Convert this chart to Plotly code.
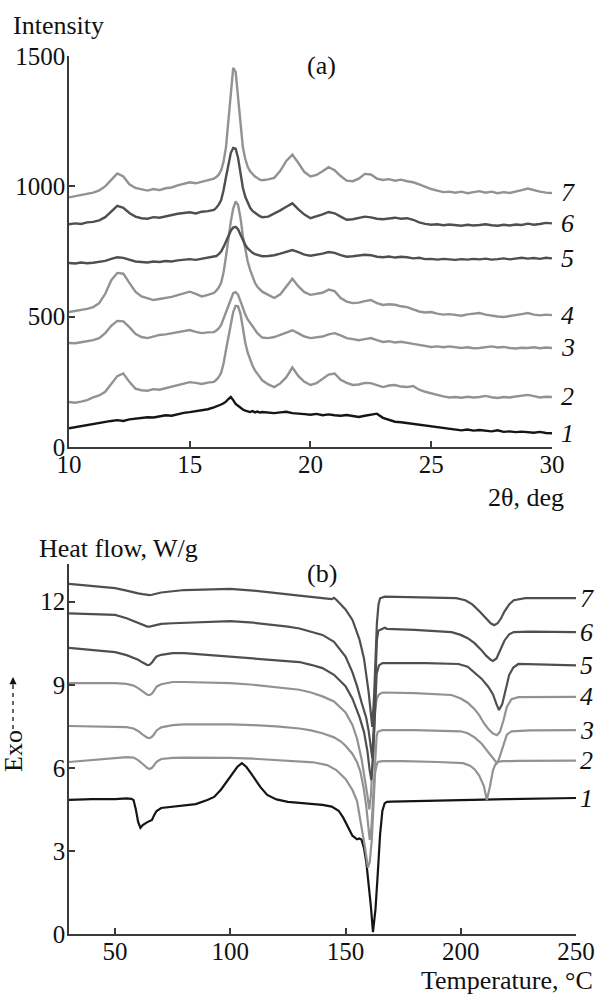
import plotly.graph_objects as go

W, H = 596, 994
FONT = "Liberation Serif, Times New Roman, serif"

# ---------------- (a) XRD data ----------------
two_theta = ([10 + 0.25 * i for i in range(25)]
             + [round(16.1 + 0.1 * i, 1) for i in range(19)]
             + [18 + 0.25 * i for i in range(49)])

xrd_1 = [72, 76, 80, 86, 90, 94, 97, 100, 103, 100, 106, 108, 111, 114, 113, 118, 122, 120, 126, 131, 134, 138, 142, 145, 152,
         155, 160, 163, 168, 174, 184, 192, 180, 165, 158, 150, 144, 140, 136, 134, 138, 133, 136, 132,
         134, 131, 130, 133, 135, 130, 129, 126, 124, 127, 122, 125, 122, 120, 123, 118, 115, 120, 124, 128, 112, 104, 97, 95, 92,
         88, 85, 80, 77, 74, 72, 68, 66, 64, 67, 63, 65, 62, 60, 64, 58, 60, 57, 59, 57, 55, 58, 54, 53]
xrd_2 = [173, 170, 174, 180, 190, 198, 212, 240, 272, 282, 250, 224, 218, 216, 222, 220, 226, 232, 238, 244, 249, 246, 242, 247, 250,
         258, 268, 285, 320, 372, 425, 476, 518, 542, 540, 512, 455, 400, 362, 334, 312, 294, 280, 266,
         256, 240, 230, 244, 268, 305, 272, 250, 238, 245, 262, 278, 282, 258, 246, 238, 240, 246, 245, 236, 230, 236, 238, 232, 230,
         234, 220, 212, 207, 200, 194, 190, 192, 189, 193, 190, 192, 196, 191, 188, 192, 190, 194, 198, 200, 195, 190, 193, 192]
xrd_3 = [399, 398, 402, 405, 410, 418, 437, 465, 484, 482, 460, 434, 422, 418, 424, 430, 432, 436, 441, 446, 449, 442, 437, 440, 441,
         447, 455, 468, 492, 520, 548, 572, 590, 594, 585, 560, 533, 508, 490, 476, 462, 447, 437, 428,
         420, 418, 422, 430, 440, 448, 436, 424, 418, 420, 424, 432, 437, 428, 418, 414, 410, 414, 418, 410, 403, 406, 401, 404, 399,
         396, 392, 388, 384, 386, 383, 386, 384, 380, 383, 379, 380, 383, 386, 382, 384, 380, 378, 381, 380, 383, 379, 382, 380]
xrd_4 = [518, 522, 526, 530, 537, 552, 588, 640, 668, 665, 630, 596, 578, 570, 564, 568, 571, 576, 583, 590, 596, 588, 578, 584, 591,
         600, 612, 630, 670, 730, 800, 865, 915, 942, 930, 880, 810, 755, 712, 680, 655, 630, 615, 604,
         596, 584, 572, 586, 618, 646, 616, 594, 584, 588, 592, 604, 598, 572, 558, 552, 554, 560, 564, 552, 545, 548, 546, 540, 537,
         528, 520, 516, 518, 512, 508, 510, 506, 504, 509, 512, 514, 508, 504, 501, 499, 502, 506, 510, 514, 508, 505, 508, 506]
xrd_5 = [706, 704, 708, 705, 707, 710, 714, 722, 728, 726, 718, 712, 710, 708, 712, 710, 714, 712, 716, 719, 721, 718, 722, 725, 729,
         733, 740, 750, 768, 790, 812, 830, 842, 845, 836, 815, 792, 775, 762, 752, 745, 740, 737, 734,
         732, 733, 736, 742, 750, 756, 748, 738, 734, 737, 742, 748, 745, 736, 730, 732, 734, 738, 736, 730, 728, 731, 727, 730, 728,
         724, 726, 721, 722, 719, 722, 720, 718, 721, 719, 722, 720, 723, 719, 721, 724, 720, 722, 726, 723, 725, 722, 726, 724]
xrd_6 = [855, 858, 856, 862, 864, 870, 882, 905, 925, 918, 898, 884, 878, 876, 882, 880, 886, 890, 895, 898, 901, 896, 903, 905, 910,
         918, 930, 948, 985, 1035, 1090, 1128, 1148, 1145, 1110, 1050, 995, 960, 935, 918, 906, 898, 892, 886,
         882, 884, 895, 908, 922, 935, 912, 892, 878, 885, 893, 902, 897, 884, 872, 874, 878, 884, 881, 876, 874, 877, 880, 876, 878,
         872, 862, 856, 853, 855, 851, 854, 852, 849, 853, 850, 852, 855, 851, 849, 853, 850, 854, 852, 857, 853, 856, 860, 858]
xrd_7 = [958, 962, 966, 970, 976, 985, 1000, 1025, 1050, 1038, 1008, 994, 988, 984, 990, 986, 993, 996, 1004, 1010, 1016, 1012, 1018, 1022, 1030,
         1036, 1045, 1062, 1095, 1150, 1250, 1355, 1455, 1440, 1335, 1230, 1150, 1105, 1075, 1058, 1046, 1038, 1032, 1026,
         1024, 1027, 1033, 1060, 1098, 1122, 1090, 1055, 1038, 1044, 1058, 1074, 1062, 1040, 1022, 1020, 1030, 1048, 1046, 1030, 1025, 1028, 1022, 1026, 1020,
         1016, 1008, 998, 990, 984, 978, 980, 976, 980, 974, 978, 982, 976, 980, 974, 978, 975, 982, 986, 992, 985, 980, 976, 975]

xrd_series = [xrd_1, xrd_2, xrd_3, xrd_4, xrd_5, xrd_6, xrd_7]
for s in xrd_series:
    assert len(s) == len(two_theta), len(s)

# ---------------- (b) DSC data ----------------
dsc_T_1 = [30, 40, 50, 55, 57, 58, 59, 60, 61, 62, 64, 66, 67, 68, 70, 75, 80, 85, 90, 93,
           96, 99, 101, 103, 105, 107, 109, 111, 113, 116, 120, 125, 130, 135, 140, 144, 147, 149, 151, 153,
           155, 156, 157, 158, 159, 160, 161, 161.9, 163, 164, 165, 166, 167, 168, 170, 180, 200, 220, 250]
dsc_hf_1 = [4.84, 4.87, 4.87, 4.9, 4.88, 4.84, 4.5, 4.05, 3.83, 3.93, 4.04, 4.12, 4.3, 4.44, 4.55, 4.6, 4.63, 4.69, 4.84, 4.95,
            5.22, 5.55, 5.8, 6.03, 6.17, 6.03, 5.8, 5.55, 5.31, 5.02, 4.86, 4.77, 4.73, 4.70, 4.66, 4.6, 4.45, 4.2, 3.9, 3.55,
            3.42, 3.45, 3.4, 3.1, 2.6, 1.9, 1.0, 0.07, 0.9, 2.2, 3.6, 4.45, 4.72, 4.77, 4.78, 4.8, 4.84, 4.87, 4.91]

dsc_T_2 = [30, 40, 50, 55, 58, 60, 62, 63, 64, 65, 66, 67, 68, 70, 75, 80, 90, 100, 110, 120,
           130, 136, 142, 146, 150, 153, 155, 157, 158.5, 159.7, 160.5, 161.4, 162, 162.8, 163.5, 164, 166, 175, 190, 201,
           204, 206, 208, 210, 211.3, 212.6, 214, 215, 216, 218, 225, 250]
dsc_hf_2 = [6.21, 6.28, 6.35, 6.39, 6.37, 6.28, 6.14, 6.06, 5.99, 5.96, 6.0, 6.1, 6.22, 6.32, 6.36, 6.37, 6.37, 6.36, 6.33, 6.29,
            6.23, 6.2, 6.1, 5.92, 5.6, 5.2, 4.8, 3.9, 3.1, 2.4, 2.6, 3.4, 4.5, 5.8, 6.1, 6.21, 6.24, 6.24, 6.21, 6.17,
            6.08, 5.95, 5.72, 5.35, 4.84, 5.3, 5.92, 6.12, 6.21, 6.24, 6.25, 6.26]

dsc_T_3 = [30, 40, 50, 55, 58, 60, 62, 63, 64, 65, 66, 67, 68, 70, 75, 80, 90, 100, 110, 120,
           130, 135, 140, 145, 148, 150, 153, 155, 156.5, 158, 159, 160, 160.5, 161.2, 162, 162.8, 163.5, 164, 166, 180,
           195, 200, 203, 206, 209, 211, 213, 215, 215.7, 216.5, 218, 219, 220, 222, 230, 250]
dsc_hf_3 = [7.51, 7.5, 7.48, 7.47, 7.42, 7.33, 7.2, 7.13, 7.09, 7.07, 7.12, 7.22, 7.35, 7.46, 7.54, 7.57, 7.58, 7.57, 7.54, 7.5,
            7.42, 7.35, 7.25, 7.1, 6.95, 6.8, 6.5, 6.2, 5.85, 5.2, 4.6, 3.9, 3.4, 3.8, 5.0, 6.5, 7.15, 7.3, 7.36, 7.36,
            7.35, 7.32, 7.25, 7.1, 6.88, 6.68, 6.45, 6.24, 6.17, 6.3, 6.7, 7.0, 7.2, 7.32, 7.35, 7.36]

dsc_T_4 = [30, 40, 50, 55, 58, 60, 62, 63, 64, 65, 66, 67, 68, 70, 75, 80, 90, 100, 110, 120,
           130, 135, 140, 145, 150, 153, 155, 157, 158.5, 159.5, 160.3, 161, 162, 162.8, 163.5, 164.5, 166, 180, 196, 200,
           203, 206, 208, 210, 212, 214, 215.7, 217, 218.5, 220, 222, 225, 250]
dsc_hf_4 = [9.06, 9.06, 9.06, 9.03, 8.97, 8.88, 8.76, 8.69, 8.64, 8.63, 8.68, 8.8, 8.93, 9.02, 9.1, 9.1, 9.08, 9.06, 9.0, 8.92,
            8.82, 8.72, 8.58, 8.4, 8.0, 7.55, 7.05, 6.3, 5.6, 5.0, 4.5, 5.0, 6.6, 8.0, 8.5, 8.65, 8.72, 8.7, 8.63, 8.5,
            8.35, 8.12, 7.9, 7.62, 7.4, 7.24, 7.18, 7.3, 7.7, 8.2, 8.48, 8.55, 8.56]

dsc_T_5 = [30, 40, 50, 55, 58, 60, 62, 63, 64, 65, 66, 67, 68, 70, 75, 80, 90, 100, 110, 120,
           130, 135, 140, 145, 150, 153, 156, 158, 159.5, 160.5, 161.2, 162, 162.8, 163.5, 164.5, 166, 185, 199, 203, 206,
           209, 212, 214, 215.5, 216.6, 218, 219.5, 221, 222.8, 225, 250]
dsc_hf_5 = [10.33, 10.25, 10.18, 10.07, 9.98, 9.9, 9.8, 9.74, 9.71, 9.72, 9.8, 9.92, 10.02, 10.08, 10.14, 10.14, 10.08, 10.01, 9.96, 9.9,
            9.82, 9.72, 9.6, 9.36, 8.95, 8.5, 7.85, 7.3, 6.6, 5.9, 5.56, 6.5, 8.4, 9.4, 9.7, 9.78, 9.78, 9.75, 9.65, 9.45,
            9.22, 8.92, 8.65, 8.3, 8.09, 8.3, 8.8, 9.35, 9.62, 9.75, 9.7]

dsc_T_6 = [30, 40, 50, 55, 58, 60, 62, 64, 65, 66, 68, 70, 75, 80, 90, 100, 110, 120, 125, 130,
           135, 140, 145, 150, 153, 155, 157, 159, 160, 161, 161.6, 162.3, 163, 163.6, 164.2, 166, 167, 168, 180, 196,
           200, 203, 206, 209, 211, 213, 214, 215.5, 217, 219, 221, 223, 230, 250]
dsc_hf_6 = [11.58, 11.55, 11.52, 11.4, 11.3, 11.22, 11.15, 11.1, 11.1, 11.12, 11.18, 11.2, 11.22, 11.24, 11.27, 11.3, 11.24, 11.15, 11.1, 11.03,
            10.92, 10.8, 10.55, 10.02, 9.45, 8.95, 8.35, 7.8, 7.35, 6.75, 6.35, 7.6, 9.5, 10.6, 10.95, 11.02, 11.06, 11.02, 10.98, 10.9,
            10.8, 10.68, 10.5, 10.25, 10.05, 9.9, 9.86, 9.95, 10.25, 10.6, 10.82, 10.9, 10.92, 10.9]

dsc_T_7 = [30, 40, 50, 55, 58, 60, 62, 64, 65, 66, 68, 70, 80, 90, 100, 110, 120, 130, 140, 144,
           145, 146, 150, 153, 156, 158, 160, 161, 161.6, 162.4, 163, 163.6, 164.3, 165, 167, 190, 198, 202, 205, 208,
           211, 213, 214.5, 216, 217.5, 219, 221, 223, 228, 250]
dsc_hf_7 = [12.64, 12.56, 12.49, 12.4, 12.33, 12.3, 12.27, 12.24, 12.24, 12.25, 12.28, 12.33, 12.42, 12.45, 12.46, 12.4, 12.32, 12.22, 12.13, 12.09,
            12.14, 12.07, 11.72, 11.34, 10.65, 9.95, 8.75, 7.9, 7.48, 8.6, 10.0, 11.2, 11.9, 12.12, 12.18, 12.15, 12.13, 12.05, 11.9, 11.66,
            11.4, 11.22, 11.15, 11.22, 11.4, 11.65, 11.9, 12.05, 12.13, 12.13]

dsc_T = [dsc_T_1, dsc_T_2, dsc_T_3, dsc_T_4, dsc_T_5, dsc_T_6, dsc_T_7]
dsc_hf = [dsc_hf_1, dsc_hf_2, dsc_hf_3, dsc_hf_4, dsc_hf_5, dsc_hf_6, dsc_hf_7]
for t, h in zip(dsc_T, dsc_hf):
    assert len(t) == len(h), (len(t), len(h))

curve_labels = ["1", "2", "3", "4", "5", "6", "7"]
BLACK, LIGHT, DARK = "#151515", "#929292", "#4f4f4f"
curve_colors = [BLACK, LIGHT, LIGHT, LIGHT, DARK, DARK, LIGHT]      # XRD
dsc_colors = [BLACK, LIGHT, LIGHT, LIGHT, DARK, DARK, DARK]          # DSC

fig = go.Figure()
for lab, ys, col in zip(curve_labels, xrd_series, curve_colors):
    fig.add_trace(go.Scatter(x=two_theta, y=ys, mode="lines", name=lab,
                             line=dict(color=col, width=2.4), xaxis="x", yaxis="y",
                             showlegend=False, hoverinfo="skip"))
for lab, t, h, col in zip(curve_labels, dsc_T, dsc_hf, dsc_colors):
    fig.add_trace(go.Scatter(x=t, y=h, mode="lines", name=lab,
                             line=dict(color=col, width=2.2), xaxis="x2", yaxis="y2",
                             showlegend=False, hoverinfo="skip"))


def px(x):
    return x / W


def py(y):
    return 1 - y / H


axis_style = dict(showline=True, linecolor="#3a3a3a", linewidth=1.5, ticks="inside",
                  ticklen=6, tickwidth=1.5, tickcolor="#3a3a3a", showgrid=False,
                  zeroline=False, automargin=False,
                  tickfont=dict(family=FONT, size=25, color="#111"))

fig.update_layout(
    template="none",
    font=dict(family=FONT, color="#111"),
    width=W, height=H, autosize=False,
    margin=dict(l=0, r=0, t=0, b=0, pad=0, autoexpand=False),
    paper_bgcolor="white", plot_bgcolor="white",
    xaxis=dict(domain=[px(69), px(552)], range=[10, 30.001], tickvals=[10, 15, 20, 25, 30],
               anchor="y", ticklabelstandoff=-6, **axis_style),
    yaxis=dict(domain=[py(447), py(56)], range=[0, 1500.5], tickvals=[0, 500, 1000, 1500],
               anchor="x", ticklabelstandoff=-3, **axis_style),
    xaxis2=dict(domain=[px(69), px(576)], range=[30, 250.01], tickvals=[50, 100, 150, 200, 250],
                anchor="y2", ticklabelstandoff=-6, **axis_style),
    yaxis2=dict(domain=[py(934), py(564)], range=[0, 13.36], tickvals=[0, 3, 6, 9, 12],
                anchor="x2", ticklabelstandoff=-3, **axis_style),
)

ann = []
tfont = dict(family=FONT, size=26, color="#111")
ann.append(dict(text="Intensity", x=px(11), y=py(25), xref="paper", yref="paper",
                xanchor="left", yanchor="middle", showarrow=False, font=tfont))
ann.append(dict(text="(a)", x=px(321), y=py(65), xref="paper", yref="paper",
                xanchor="center", yanchor="middle", showarrow=False, font=tfont))
ann.append(dict(text="2θ, deg", x=px(566), y=py(497), xref="paper", yref="paper",
                xanchor="right", yanchor="middle", showarrow=False, font=tfont))
ann.append(dict(text="Heat flow, W/g", x=px(37), y=py(548), xref="paper", yref="paper",
                xanchor="left", yanchor="middle", showarrow=False, font=tfont))
ann.append(dict(text="(b)", x=px(322), y=py(573), xref="paper", yref="paper",
                xanchor="center", yanchor="middle", showarrow=False, font=tfont))
ann.append(dict(text="Temperature, °C", x=px(595), y=py(980), xref="paper", yref="paper",
                xanchor="right", yanchor="middle", showarrow=False, font=tfont))
ann.append(dict(text="Exo", x=px(13), y=py(751), xref="paper", yref="paper",
                xanchor="center", yanchor="middle", textangle=-90, showarrow=False, font=tfont))
# arrow head of the Exo arrow
ann.append(dict(text="", x=px(13), y=py(677), xref="paper", yref="paper",
                showarrow=True, ax=0, ay=9, arrowhead=2, arrowsize=1.1, arrowwidth=1.3,
                arrowcolor="#111"))

nfont = dict(family=FONT, size=26, color="#111")
for lab, ys in zip(curve_labels, xrd_series):
    ann.append(dict(text="<i>" + lab + "</i>", x=30, y=ys[-1], xref="x", yref="y",
                    xanchor="left", yanchor="middle", xshift=7, showarrow=False, font=nfont))
for lab, h in zip(curve_labels, dsc_hf):
    ann.append(dict(text="<i>" + lab + "</i>", x=250, y=h[-1], xref="x2", yref="y2",
                    xanchor="left", yanchor="middle", xshift=2, showarrow=False, font=nfont))

fig.update_layout(annotations=ann)
fig.add_shape(type="line", xref="paper", yref="paper", x0=px(13), x1=px(13),
              y0=py(729), y1=py(684), line=dict(color="#111", width=1.3, dash="4px,4px"))

fig.write_html("out.html", config={"displayModeBar": False},
               post_script="document.body.style.margin='0px';document.body.style.padding='0px';")
